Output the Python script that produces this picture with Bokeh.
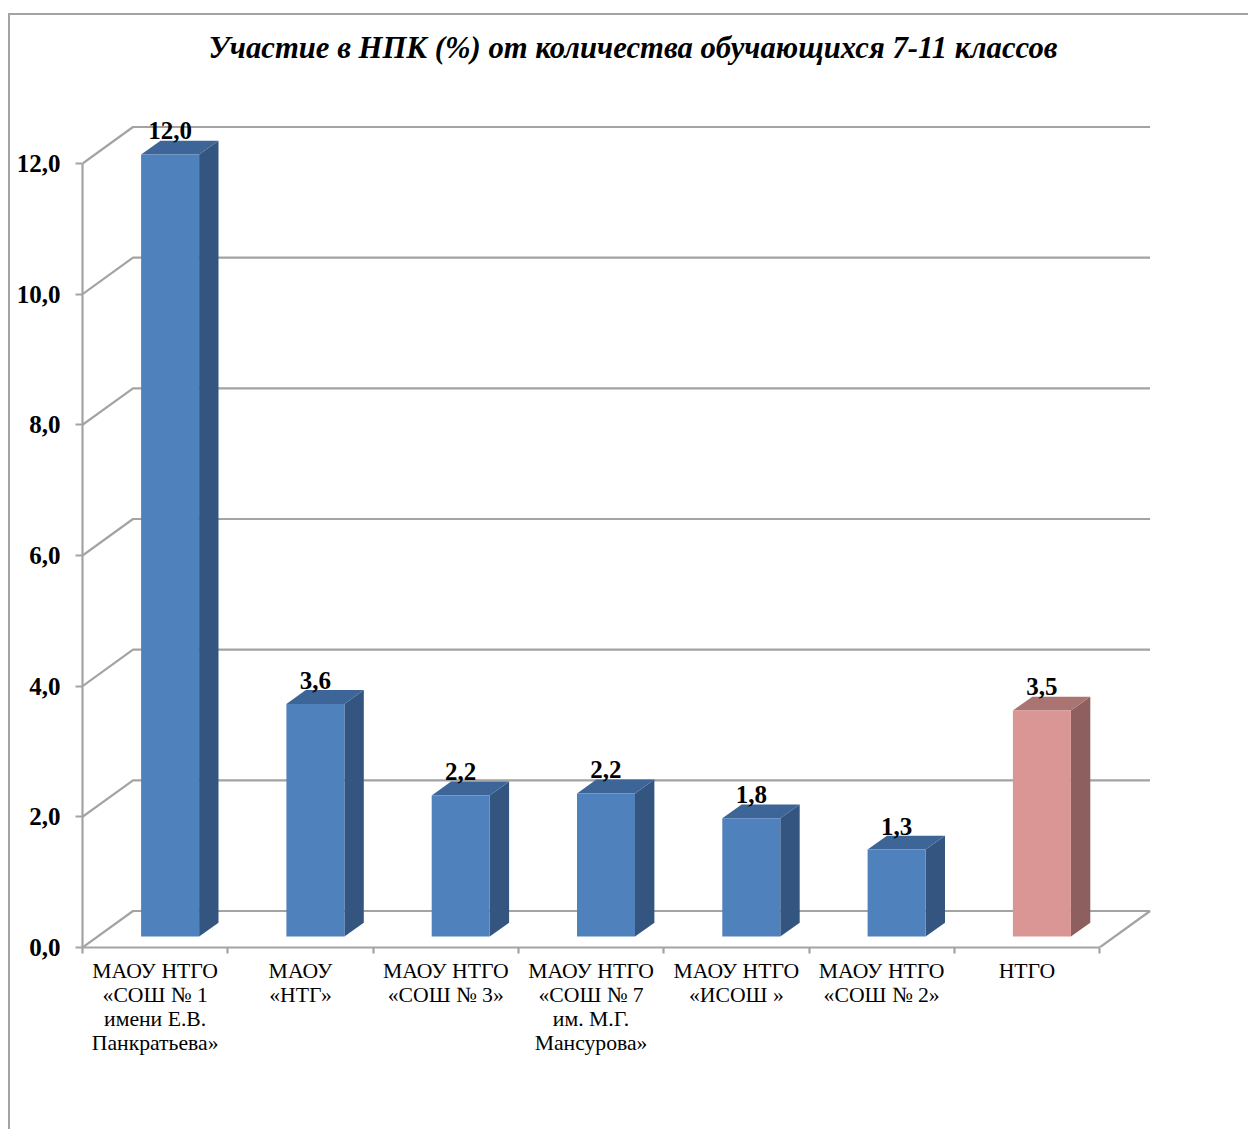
from bokeh.plotting import figure
from bokeh.models import Range1d, FixedTicker, Title, ColumnDataSource, InlineStyleSheet
from bokeh.core.properties import value
from bokeh.embed import file_html
from bokeh.resources import INLINE

categories = [
    "МАОУ НТГО\n«СОШ № 1\nимени Е.В.\nПанкратьева»",
    "МАОУ\n«НТГ»",
    "МАОУ НТГО\n«СОШ № 3»",
    "МАОУ НТГО\n«СОШ № 7\nим. М.Г.\nМансурова»",
    "МАОУ НТГО\n«ИСОШ »",
    "МАОУ НТГО\n«СОШ № 2»",
    "НТГО",
]
values = [11.97, 3.56, 2.16, 2.19, 1.81, 1.33, 3.46]
y_ticks = [0, 2, 4, 6, 8, 10, 12]
y_labels = ["0,0", "2,0", "4,0", "6,0", "8,0", "10,0", "12,0"]
title_text = "Участие в НПК (%) от количества обучающихся 7-11 классов"

FONT = "Liberation Serif"
GRID = "#a3a3a3"
FRONT = ["#4f81bd"] * 6 + ["#d99694"]
SIDE = ["#34557f"] * 6 + ["#8d5f5e"]
TOP = ["#3e6597"] * 6 + ["#a97472"]

W, H = 1248, 1129
LEFT, BOTTOM, RIGHT, TOPPX = 82, 947, 1151, 120   # canvas pixels of the plot frame
PPC = 145.3                # pixels per category
PPV = 784 / 12             # pixels per value unit
DX, DY = 50.5 / PPC, 36.5 / PPV  # floor depth in data units
FX1, FX2 = 0.296, 0.68     # bar front/back position within the depth, horizontally
FY1, FY2 = 0.301, 0.68     # the same, vertically
HALF = 29 / PPC            # half bar width
n = len(categories)

p = figure(
    width=W, height=H, output_backend="svg", toolbar_location=None,
    x_range=Range1d(0, (RIGHT - LEFT) / PPC),
    y_range=Range1d(0, (BOTTOM - TOPPX) / PPV),
    min_border_left=LEFT, min_border_right=W - RIGHT,
    min_border_top=TOPPX, min_border_bottom=H - BOTTOM,
    outline_line_color=None, background_fill_color="white", border_fill_color="white",
)
p.grid.visible = False

# chart border
p.stylesheets = [InlineStyleSheet(css=(
    ":host::before{content:'';position:absolute;left:8px;top:13px;right:0;bottom:0;"
    "border-left:2px solid #a3a3a3;border-top:2px solid #a3a3a3;z-index:10;pointer-events:none}"))]

# title, held above the frame by an empty spacer panel
p.add_layout(Title(text=" ", text_font_size="10px", standoff=26), "above")
p.add_layout(Title(text=title_text, align="left", offset=126, standoff=33,
                   text_font=FONT, text_font_size="30.7px", text_font_style="bold italic",
                   text_color="black"), "above")

# walls and floor
line_width = 2.2
p.multi_line(
    xs=[[0, DX, n + DX] for _ in y_ticks],
    ys=[[t, t + DY, t + DY] for t in y_ticks],
    line_color=GRID, line_width=line_width)
p.line([n, n + DX], [0, DY], line_color=GRID, line_width=line_width)

# bars
for i, v in enumerate(values):
    c = i + 0.5
    xl, xr = c - HALF, c + HALF
    a1, b1 = FX1 * DX, FY1 * DY
    a2, b2 = FX2 * DX, FY2 * DY
    p.patch([xr + a1, xr + a2, xr + a2, xr + a1],
            [b1, b2, v + b2, v + b1], fill_color=SIDE[i], line_color=None)
    p.patch([xl + a1, xl + a2, xr + a2, xr + a1],
            [v + b1, v + b2, v + b2, v + b1], fill_color=TOP[i], line_color=None)
    p.patch([xl + a1, xr + a1, xr + a1, xl + a1],
            [b1, b1, v + b1, v + b1], fill_color=FRONT[i], line_color=None)

# data labels
src = ColumnDataSource(dict(
    x=[i + 0.5 + FX1 * DX for i in range(n)],
    y=[v + FY1 * DY for v in values],
    t=[f"{v:.1f}".replace(".", ",") for v in values]))
p.text("x", "y", text="t", source=src, y_offset=-23.5,
       text_align="center", text_baseline="middle",
       text_font=value(FONT), text_font_style="bold", text_font_size="25px", text_color="black")

# axes
ya = p.yaxis[0]
ya.ticker = FixedTicker(ticks=y_ticks)
ya.bounds = (0, 12)
ya.major_label_overrides = dict(zip(y_ticks, y_labels))
ya.major_label_text_font = FONT
ya.major_label_text_font_style = "bold"
ya.major_label_text_font_size = "25px"
ya.major_label_text_color = "black"
ya.major_label_standoff = 15
ya.axis_line_color = GRID
ya.axis_line_width = line_width
ya.major_tick_line_color = GRID
ya.major_tick_line_width = line_width
ya.major_tick_in = 0
ya.major_tick_out = 7
ya.minor_tick_line_color = None

centres = [i + 0.5 for i in range(n)]
xa = p.xaxis[0]
xa.ticker = FixedTicker(ticks=centres, minor_ticks=list(range(n + 1)))
xa.bounds = (0, n)
xa.major_label_overrides = dict(zip(centres, categories))
xa.major_label_text_font = FONT
xa.major_label_text_font_size = "21.7px"
xa.major_label_text_color = "black"
xa.major_label_text_line_height = 1.0
xa.major_label_standoff = 5
xa.major_label_orientation = "horizontal"
xa.axis_line_color = GRID
xa.axis_line_width = line_width
xa.major_tick_line_color = None
xa.minor_tick_line_color = GRID
xa.minor_tick_line_width = line_width
xa.minor_tick_in = 0
xa.minor_tick_out = 6

open("out.html", "w").write(file_html(p, INLINE))
